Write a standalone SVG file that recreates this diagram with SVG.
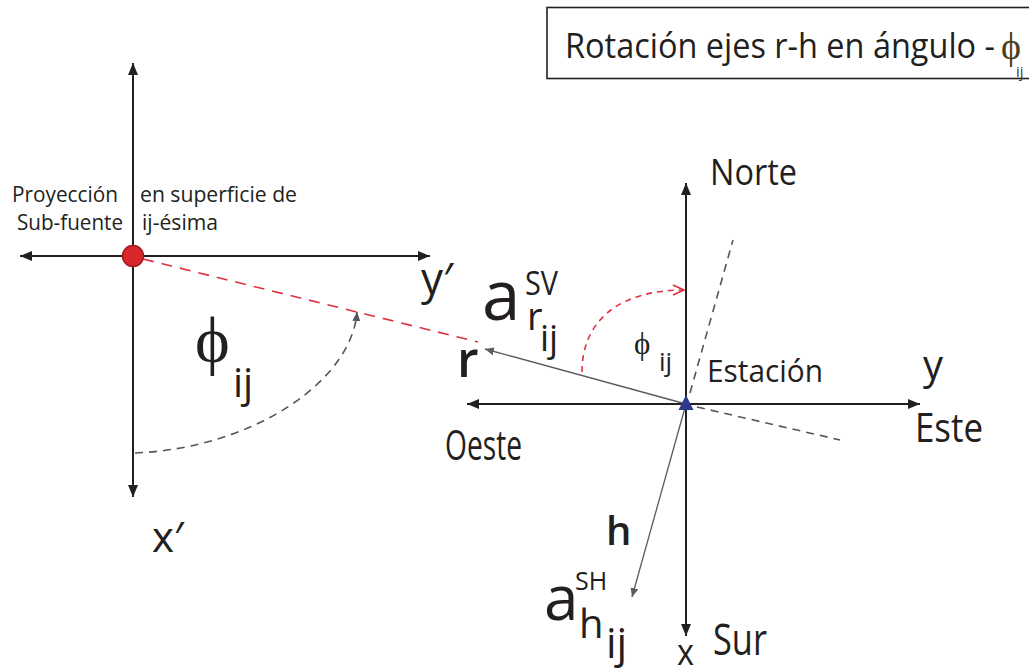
<svg xmlns="http://www.w3.org/2000/svg" width="1029" height="671" viewBox="0 0 1029 671">
<defs>
<style>
.t{font-family:"Open Sans","Noto Sans",sans-serif;fill:#231f20}
.g{font-family:"Liberation Serif","DejaVu Serif",serif;fill:#231f20}
.b{font-weight:600}
.ax{stroke:#231f20;stroke-width:2;fill:none}
.thin{stroke:#5a5a5f;stroke-width:1.3;fill:none}
.dash{stroke:#55555a;stroke-width:1.6;fill:none;stroke-dasharray:8 6}
.rdash{stroke:#e0303f;stroke-width:1.6;fill:none;stroke-dasharray:11 8}
.rarc{stroke:#e0303f;stroke-width:1.6;fill:none;stroke-dasharray:6 5}
</style>
<marker id="ah" markerUnits="userSpaceOnUse" markerWidth="13" markerHeight="10" refX="12" refY="5" orient="auto">
<path d="M0,0 L12,5 L0,10 Z" fill="#231f20"/>
</marker>
<marker id="ahs" markerUnits="userSpaceOnUse" markerWidth="10" markerHeight="8" refX="9" refY="4" orient="auto">
<path d="M0,0 L9,4 L0,8 Z" fill="#5a5a5f"/>
</marker>
<marker id="ahd" markerUnits="userSpaceOnUse" markerWidth="10" markerHeight="8" refX="9" refY="4" orient="auto">
<path d="M0,0 L9,4 L0,8 Z" fill="#55555a"/>
</marker>
<marker id="ahr" markerUnits="userSpaceOnUse" markerWidth="14" markerHeight="12" refX="12" refY="6" orient="auto">
<path d="M1,1 L12,6 L1,11" fill="none" stroke="#e0303f" stroke-width="1.8"/>
</marker>
</defs>
<rect width="1029" height="671" fill="#ffffff"/>

<g id="title">
<rect x="547" y="7.5" width="500" height="71" fill="#ffffff" stroke="#231f20" stroke-width="1.6"/>
<text class="t" x="565" y="58" font-size="35" textLength="430" lengthAdjust="spacingAndGlyphs">Rotación ejes r-h en ángulo -</text>
<text class="g" x="1001" y="59" font-size="38" style="fill:#4a3d1a">ϕ</text>
<text class="t" x="1016" y="77" font-size="15" style="fill:#4a3d1a">ij</text>
</g>

<g id="connectors">
<line class="ax" x1="133" y1="256" x2="20" y2="256" marker-end="url(#ah)"/>
<line class="ax" x1="133" y1="256" x2="430" y2="256" marker-end="url(#ah)"/>
<line class="ax" x1="133" y1="256" x2="133" y2="63" marker-end="url(#ah)"/>
<line class="ax" x1="133" y1="256" x2="133" y2="497" marker-end="url(#ah)"/>
<path class="rdash" d="M143,259 L478,342"/>
<path class="dash" d="M135,453 C255,448 352,380 357,312" marker-end="url(#ahd)"/>
<line class="ax" x1="686" y1="404" x2="686" y2="183" marker-end="url(#ah)"/>
<line class="ax" x1="686" y1="404" x2="686" y2="636" marker-end="url(#ah)"/>
<line class="ax" x1="686" y1="404" x2="467" y2="404" marker-end="url(#ah)"/>
<line class="ax" x1="686" y1="404" x2="920" y2="404" marker-end="url(#ah)"/>
<path class="dash" d="M690,393 L733,240"/>
<path class="dash" d="M697,407 L840,440"/>
<line class="thin" x1="686" y1="404" x2="485" y2="349" marker-end="url(#ahs)"/>
<line class="thin" x1="686" y1="404" x2="632" y2="597" marker-end="url(#ahs)"/>
<path class="rarc" d="M582,372 C582,320 620,290 684,290" marker-end="url(#ahr)"/>
</g>

<g id="source">
<circle cx="133" cy="256" r="10.5" fill="#d8282b" stroke="#a01c20" stroke-width="1.5"/>
<text class="t" x="12" y="202" font-size="22" textLength="106" lengthAdjust="spacingAndGlyphs">Proyección</text>
<text class="t" x="17" y="230" font-size="22" textLength="106" lengthAdjust="spacingAndGlyphs">Sub-fuente</text>
<text class="t" x="140" y="202" font-size="22" textLength="157" lengthAdjust="spacingAndGlyphs">en superficie de</text>
<text class="t" x="142" y="230" font-size="22" textLength="76" lengthAdjust="spacingAndGlyphs">ij-ésima</text>
<text class="t" x="421" y="294" font-size="44">y′</text>
<text class="t" x="152" y="552" font-size="42">x′</text>
<text class="g" x="195" y="362" font-size="66">ϕ</text>
<text class="t" x="233" y="397" font-size="40">ij</text>
</g>

<g id="station">
<path d="M686,395 L678.5,410 L693.5,410 Z" fill="#2d3a8c"/>
<text class="t" x="707" y="382" font-size="31" textLength="116" lengthAdjust="spacingAndGlyphs">Estación</text>
<text class="t" x="710" y="185" font-size="36" textLength="87" lengthAdjust="spacingAndGlyphs">Norte</text>
<text class="t" x="915" y="442" font-size="40" textLength="68" lengthAdjust="spacingAndGlyphs">Este</text>
<text class="t" x="445" y="460" font-size="42" textLength="77" lengthAdjust="spacingAndGlyphs">Oeste</text>
<text class="t" x="713" y="655" font-size="44" textLength="54" lengthAdjust="spacingAndGlyphs">Sur</text>
<text class="t" x="677" y="665" font-size="36" textLength="17" lengthAdjust="spacingAndGlyphs">x</text>
<text class="t" x="923" y="379" font-size="40">y</text>
<text class="g" x="634" y="354" font-size="31">ϕ</text>
<text class="t" x="659" y="371" font-size="26">ij</text>
</g>

<g id="vector-r">
<text class="t b" x="457" y="377" font-size="50">r</text>
<text class="t" x="482" y="320" font-size="69">a</text>
<text class="t" x="525" y="295" font-size="32" textLength="33" lengthAdjust="spacingAndGlyphs">SV</text>
<text class="t" x="527" y="330" font-size="38">r</text>
<text class="t" x="540" y="351" font-size="36">ij</text>
</g>

<g id="vector-h">
<text class="t b" x="606" y="545" font-size="40">h</text>
<text class="t" x="544" y="620" font-size="62">a</text>
<text class="t" x="575" y="590" font-size="25">SH</text>
<text class="t" x="579" y="638" font-size="40">h</text>
<text class="t" x="606" y="658" font-size="42">ij</text>
</g>
</svg>
